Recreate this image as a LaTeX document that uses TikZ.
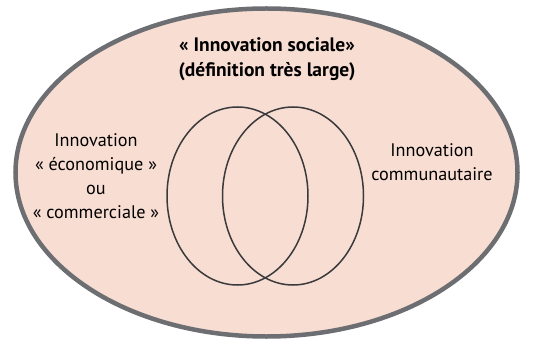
\documentclass[tikz,border=0pt]{standalone}
\usepackage{fontspec}
\setmainfont{PT Sans}
\definecolor{outerfill}{HTML}{F8DDD3}
\definecolor{outerline}{HTML}{6D6E71}
\definecolor{innerline}{HTML}{3A3A3C}
\tikzset{
  lbl/.style={align=center, font=\fontsize{18.2}{24}\selectfont, text=black, inner sep=0pt},
  ttl/.style={lbl, font=\fontsize{19.5}{24.5}\selectfont\bfseries},
  setline/.style={draw=innerline, line width=1.5pt},
}
\begin{document}
\begin{tikzpicture}[x=1pt,y=-1pt]
\useasboundingbox (0,0) rectangle (543,339);
\path[fill=outerfill, draw=outerline, line width=4.5pt] (266.5,172.5) ellipse [x radius=251, y radius=164];
\draw[setline] (237.5,196) ellipse [x radius=70.5, y radius=89];
\draw[setline] (293,196) ellipse [x radius=70.5, y radius=89];
\node[ttl] (title) at (267,59) {« Innovation sociale»\\(définition très large)};
\node[lbl] (left) at (96,176) {Innovation\\« économique »\\ou\\« commerciale »};
\node[lbl] (right) at (432,162) {Innovation\\communautaire};
\end{tikzpicture}
\end{document}
